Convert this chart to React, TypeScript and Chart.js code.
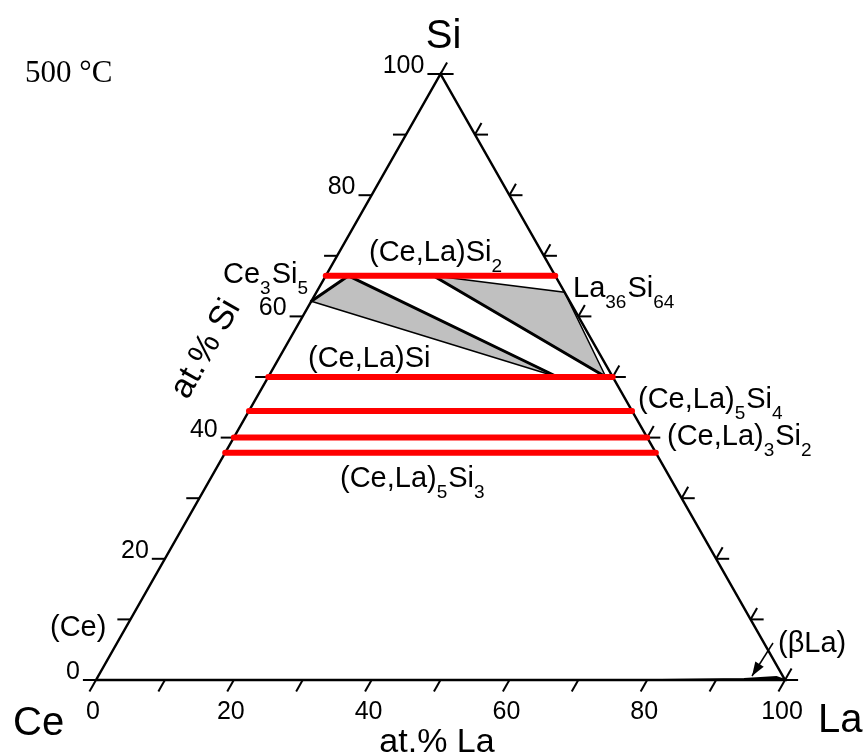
import React, { useEffect, useRef } from 'react';
import { Chart, registerables } from 'chart.js';

Chart.register(...registerables);

const SANS = '"Liberation Sans", Arial, Helvetica, sans-serif';
const SERIF = '"Liberation Serif", "Times New Roman", serif';

// ---- data (compositions in at.%: [La, Si]) ----
const SI_TICKS = [0, 10, 20, 30, 40, 50, 60, 70, 80, 90, 100];
const LA_TICKS = [0, 10, 20, 30, 40, 50, 60, 70, 80, 90, 100];
const SI_LABEL_VALUES = [0, 20, 40, 60, 80, 100];
const SI_LABELS = ['0', '20', '40', '60', '80', '100'];
const LA_LABEL_VALUES = [0, 20, 40, 60, 80, 100];
const LA_LABELS = ['0', '20', '40', '60', '80', '100'];

// triangle vertices Ce, La, Si as [La, Si]
const VERT_LA = [0, 100, 0];
const VERT_SI = [0, 0, 100];

// red single-phase (Ce,La)xSiy lines, constant Si content
const PHASE_NAMES = ['(Ce,La)Si2', '(Ce,La)Si', '(Ce,La)5Si4', '(Ce,La)3Si2', '(Ce,La)5Si3'];
const PHASE_SI = [66.7, 50, 44.4, 40, 37.5];

// three-phase triangle 1: Ce3Si5 – (Ce,La)Si2 – (Ce,La)Si
const TRI1_LA = [0, 3.3, 42];
const TRI1_SI = [62.5, 66.7, 50];
// three-phase triangle 2: (Ce,La)Si2 – La36Si64 – (Ce,La)Si
const TRI2_LA = [15.6, 36, 49];
const TRI2_SI = [66.7, 64, 50];

// (βLa) solid solution sliver along Ce–La edge
const BETA_LA = [82, 100, 98.5, 94, 82];
const BETA_SI = [0, 0, 0.5, 0.15, 0];

const TICK = 1.9; // tick length, at.%

const RED = '#ff0000';
const GRAY = '#c0c0c0';
const BLACK = '#000000';

type Pt = { x: number; y: number };
const toXY = (la: number, si: number): Pt => ({ x: la + si / 2, y: si });

function seg(data: Pt[], color: string, width: number, order: number, extra: any = {}) {
  return {
    data,
    showLine: true,
    borderColor: color,
    backgroundColor: color,
    borderWidth: width,
    pointRadius: 0,
    pointHoverRadius: 0,
    fill: false,
    clip: false,
    tension: 0,
    order,
    ...extra,
  };
}

function buildDatasets() {
  const ds: any[] = [];
  PHASE_SI.forEach((si, i) => {
    ds.push(seg([toXY(0, si), toXY(100 - si, si)], RED, 6, 0, { label: PHASE_NAMES[i], borderCapStyle: 'round' }));
  });
  const t1 = TRI1_LA.map((la, i) => toXY(la, TRI1_SI[i]));
  const t2 = TRI2_LA.map((la, i) => toXY(la, TRI2_SI[i]));
  ds.push(seg([t1[0], t1[1], t1[2]], BLACK, 3, 1, { borderJoinStyle: 'round', borderCapStyle: 'round' }));
  ds.push(seg([t2[0], t2[2]], BLACK, 3, 1, { borderCapStyle: 'round' }));
  ds.push(seg([t1[0], t1[1], t1[2], t1[0]], BLACK, 1.5, 5, { fill: 'shape', backgroundColor: GRAY }));
  ds.push(seg([t2[0], t2[1], t2[2], t2[0]], BLACK, 1.5, 5, { fill: 'shape', backgroundColor: GRAY }));
  ds.push(seg(BETA_LA.map((la, i) => toXY(la, BETA_SI[i])), BLACK, 2, 2, { fill: 'shape', backgroundColor: BLACK }));
  const v = VERT_LA.map((la, i) => toXY(la, VERT_SI[i]));
  ds.push(seg([v[0], v[1], v[2], v[0]], BLACK, 2.5, 3, { borderJoinStyle: 'miter' }));
  SI_TICKS.forEach((si) => {
    ds.push(seg([toXY(0, si), toXY(-TICK, si)], BLACK, 2, 3));
    ds.push(seg([toXY(100 - si, si), toXY(100 - si + TICK, si)], BLACK, 2, 3));
  });
  LA_TICKS.forEach((la) => {
    ds.push(seg([toXY(la, 0), toXY(la, -TICK)], BLACK, 2, 3));
    ds.push(seg([toXY(la, 100 - la), toXY(la, 100 - la + TICK)], BLACK, 2, 3));
  });
  return ds;
}

// text annotations: [text with {sub}, left x, baseline y]
const PHASE_LABELS: [string, number, number][] = [
  ['(Ce,La)Si{2}', 369, 261],
  ['Ce{3}Si{5}', 223, 283],
  ['La{36}Si{64}', 573, 297],
  ['(Ce,La)Si', 308, 367],
  ['(Ce,La){5}Si{4}', 638, 408],
  ['(Ce,La){3}Si{2}', 667, 445],
  ['(Ce,La){5}Si{3}', 340, 487],
  ['(Ce)', 50, 636],
  ['(βLa)', 778, 652],
];

function drawRich(ctx: CanvasRenderingContext2D, text: string, x: number, y: number, size: number) {
  const parts: { t: string; sub: boolean }[] = [];
  text.replace(/\{([^}]*)\}|([^{]+)/g, (m: string, s?: string, n?: string) => {
    if (s !== undefined) parts.push({ t: s, sub: true });
    else if (n !== undefined) parts.push({ t: n, sub: false });
    return m;
  });
  const subSize = Math.round(size * 0.67);
  let cx = x;
  ctx.textAlign = 'left';
  ctx.textBaseline = 'alphabetic';
  for (const p of parts) {
    ctx.font = `${p.sub ? subSize : size}px ${SANS}`;
    ctx.fillText(p.t, cx, p.sub ? y + 11 : y);
    cx += ctx.measureText(p.t).width + (p.sub ? 1 : 0);
  }
}

const textPlugin = {
  id: 'ternaryText',
  afterDraw(chart: any) {
    const ctx: CanvasRenderingContext2D = chart.ctx;
    const xs = chart.scales.x;
    const ys = chart.scales.y;
    const P = (la: number, si: number): [number, number] => [xs.getPixelForValue(la + si / 2), ys.getPixelForValue(si)];
    ctx.save();
    ctx.fillStyle = BLACK;
    ctx.strokeStyle = BLACK;

    ctx.font = `25px ${SANS}`;
    ctx.textAlign = 'right';
    ctx.textBaseline = 'alphabetic';
    SI_LABEL_VALUES.forEach((v, i) => {
      const [x, y] = P(-TICK, v);
      ctx.fillText(SI_LABELS[i], x - 3, y - 1);
    });
    ctx.textAlign = 'center';
    LA_LABEL_VALUES.forEach((v, i) => {
      const [x, y] = P(v, 0);
      ctx.fillText(LA_LABELS[i], x - 3, y + 39);
    });

    ctx.font = `40px ${SANS}`;
    ctx.textAlign = 'center';
    const [sx] = P(0, 100);
    ctx.fillText('Si', sx + 3, 48);
    ctx.textAlign = 'left';
    ctx.fillText('Ce', 13, 735);
    ctx.fillText('La', 818, 732);

    ctx.font = `34px ${SANS}`;
    ctx.textAlign = 'center';
    ctx.fillText('at.% La', 437, 752);
    const [ax0, ay0] = P(0, 0);
    const [ax1, ay1] = P(0, 100);
    const ang = Math.atan2(ay1 - ay0, ax1 - ax0);
    ctx.save();
    ctx.translate(206, 349);
    ctx.rotate(ang);
    ctx.textBaseline = 'middle';
    ctx.fillText('at.% Si', 0, 0);
    ctx.restore();

    ctx.font = `31px ${SERIF}`;
    ctx.textAlign = 'left';
    ctx.textBaseline = 'alphabetic';
    ctx.fillText('500 °C', 25, 82);

    PHASE_LABELS.forEach(([t, x, y]) => drawRich(ctx, t, x, y, 29));

    const x0 = 773, y0 = 643, x1 = 752, y1 = 676;
    ctx.lineWidth = 1.5;
    ctx.beginPath();
    ctx.moveTo(x0, y0);
    ctx.lineTo(x1, y1);
    ctx.stroke();
    const a = Math.atan2(y1 - y0, x1 - x0);
    const L = 14, W = 5;
    ctx.beginPath();
    ctx.moveTo(x1, y1);
    ctx.lineTo(x1 - L * Math.cos(a) + W * Math.sin(a), y1 - L * Math.sin(a) - W * Math.cos(a));
    ctx.lineTo(x1 - L * Math.cos(a) - W * Math.sin(a), y1 - L * Math.sin(a) + W * Math.cos(a));
    ctx.closePath();
    ctx.fill();
    ctx.restore();
  },
};

export default function App() {
  const ref = useRef<HTMLCanvasElement>(null);
  useEffect(() => {
    const chart = new Chart(ref.current as HTMLCanvasElement, {
      type: 'scatter',
      data: { datasets: buildDatasets() },
      options: {
        responsive: false,
        animation: false,
        events: [],
        layout: { padding: { left: 96, right: 79, top: 74, bottom: 75 } },
        scales: {
          x: { type: 'linear', min: 0, max: 100, display: false },
          y: { type: 'linear', min: 0, max: 100, display: false },
        },
        plugins: {
          legend: { display: false },
          tooltip: { enabled: false },
          filler: { drawTime: 'beforeDatasetDraw' },
        },
        elements: { point: { radius: 0, hoverRadius: 0 } },
      } as any,
      plugins: [textPlugin],
    });
    return () => chart.destroy();
  }, []);
  return (
    <div style={{ position: 'absolute', left: 0, top: 0, width: 864, height: 755, background: '#ffffff' }}>
      <canvas ref={ref} width={864} height={755} style={{ display: 'block' }} />
    </div>
  );
}
